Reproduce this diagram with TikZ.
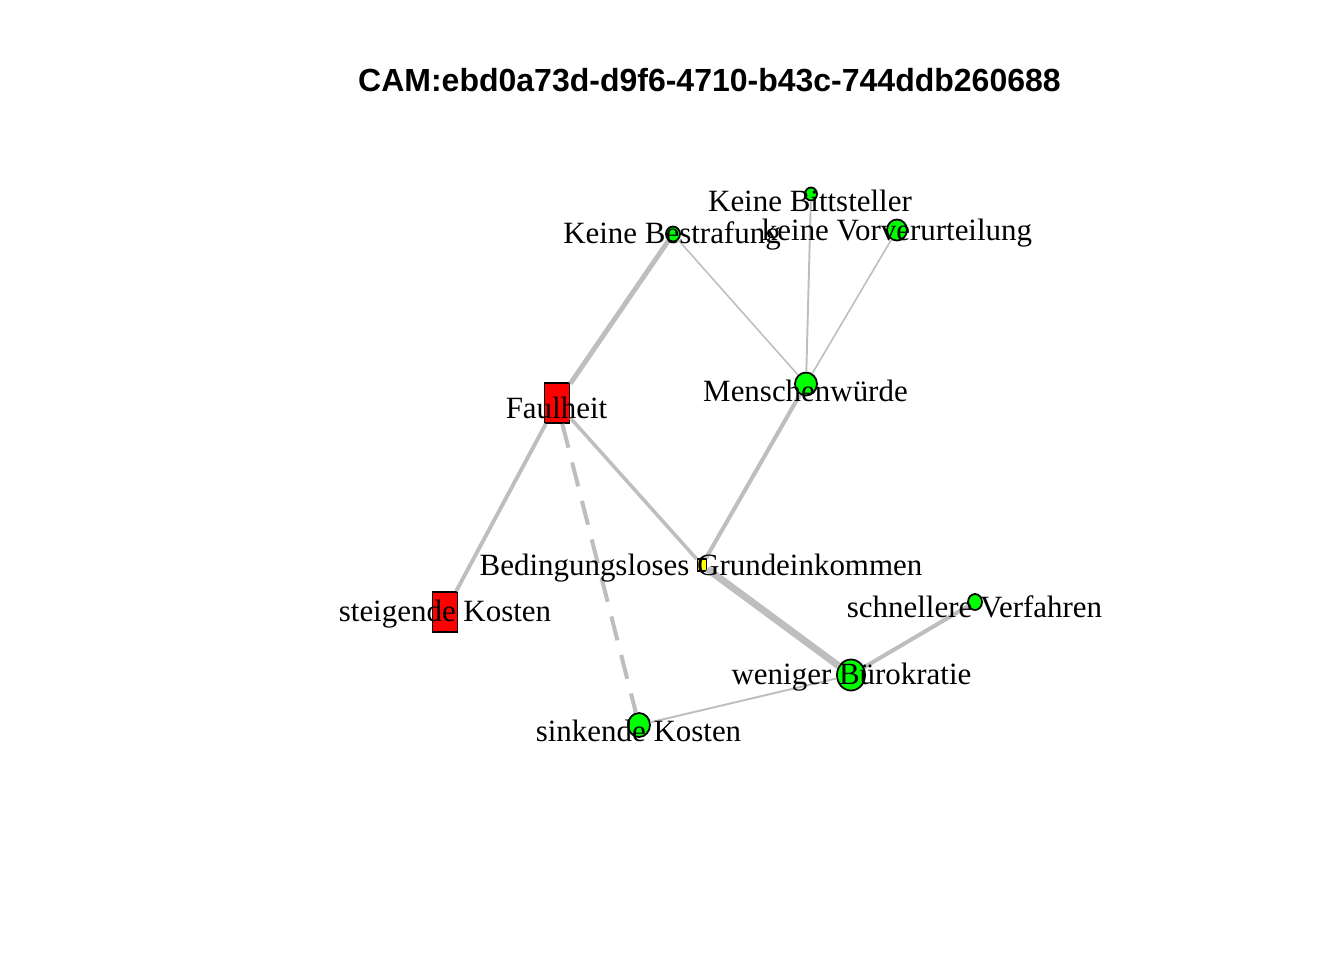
\documentclass[tikz,border=0pt]{standalone}
\usepackage{fontspec}
\setmainfont{Liberation Serif}
\newfontfamily\titelfont{Liberation Sans}
\usetikzlibrary{shapes.geometric}
\definecolor{kantengrau}{HTML}{BEBEBE}
\definecolor{knotengruen}{HTML}{00FF00}
\definecolor{knotenrot}{HTML}{FF0000}
\definecolor{knotengelb}{HTML}{FFFF00}

\begin{document}
\begin{tikzpicture}[
    x=0.01cm, y=-0.01cm,
    kante/.style={draw=kantengrau},
    punkt/.style={ellipse,draw=black,line width=0.5pt,fill=knotengruen,inner sep=0pt},
    kasten/.style={rectangle,draw=black,line width=0.5pt,fill=knotenrot,inner sep=0pt,
                   minimum width=0.25cm,minimum height=0.4cm},
    beschriftung/.style={font=\fontsize{8.8}{10}\selectfont,inner sep=0pt,yshift=-0.85pt}]
    \useasboundingbox (0, 0) rectangle (1344, 960);

    % Titel
    \node[font=\titelfont\bfseries\fontsize{9.1}{11}\selectfont] (titel) at (709.5, 80)
        {CAM:ebd0a73d-d9f6-4710-b43c-744ddb260688};

    % Knoten
    \node[punkt,minimum width=0.12cm,minimum height=0.13cm] (bittsteller) at (811, 194) {};
    \node[punkt,minimum width=0.14cm,minimum height=0.15cm] (bestrafung) at (673, 234) {};
    \node[punkt,minimum width=0.2cm,minimum height=0.21cm] (vorverurteilung) at (897, 230) {};
    \node[punkt,minimum width=0.22cm,minimum height=0.23cm] (menschenwuerde) at (806, 384) {};
    \node[kasten] (faulheit) at (557, 403) {};
    \node[rectangle,draw=black,line width=0.5pt,fill=knotengelb,inner sep=0pt,
          minimum width=0.09cm,minimum height=0.12cm] (grundeinkommen) at (702, 565) {};
    \node[kasten] (steigend) at (445, 612) {};
    \node[punkt,minimum width=0.14cm,minimum height=0.16cm] (schneller) at (975, 602) {};
    \node[punkt,minimum width=0.28cm,minimum height=0.31cm] (buerokratie) at (851, 675) {};
    \node[punkt,minimum width=0.22cm,minimum height=0.24cm] (sinkend) at (639, 725) {};

    % Kanten
    \draw[kante,line width=1.4pt] (faulheit) -- (bestrafung);
    \draw[kante,line width=0.45pt] (bestrafung) -- (menschenwuerde);
    \draw[kante,line width=0.55pt] (bittsteller) -- (menschenwuerde);
    \draw[kante,line width=0.45pt] (vorverurteilung) -- (menschenwuerde);
    \draw[kante,line width=1.15pt] (menschenwuerde) -- (grundeinkommen);
    \draw[kante,line width=1pt] (faulheit) -- (grundeinkommen);
    \draw[kante,line width=2pt] (grundeinkommen) -- (buerokratie);
    \draw[kante,line width=1.1pt] (faulheit) -- (steigend);
    \draw[kante,line width=1.15pt,dash pattern=on 7pt off 4.3pt] (faulheit) -- (sinkend);
    \draw[kante,line width=0.55pt] (buerokratie) -- (sinkend);
    \draw[kante,line width=1.15pt] (buerokratie) -- (schneller);

    % Beschriftungen
    \node[beschriftung] (t-bittsteller) at (810, 198) {Keine Bittsteller};
    \node[beschriftung] (t-bestrafung) at (672, 233) {Keine Bestrafung};
    \node[beschriftung] (t-vorverurteilung) at (897, 230) {keine Vorverurteilung};
    \node[beschriftung] (t-menschenwuerde) at (805.5, 388) {Menschenwürde};
    \node[beschriftung] (t-faulheit) at (556.5, 405) {Faulheit};
    \node[beschriftung] (t-grundeinkommen) at (701, 565) {Bedingungsloses Grundeinkommen};
    \node[beschriftung] (t-steigend) at (445, 611) {steigende Kosten};
    \node[beschriftung] (t-schneller) at (974.5, 604) {schnellere Verfahren};
    \node[beschriftung] (t-buerokratie) at (851.5, 674) {weniger Bürokratie};
    \node[beschriftung] (t-sinkend) at (638.5, 728) {sinkende Kosten};
\end{tikzpicture}
\end{document}
